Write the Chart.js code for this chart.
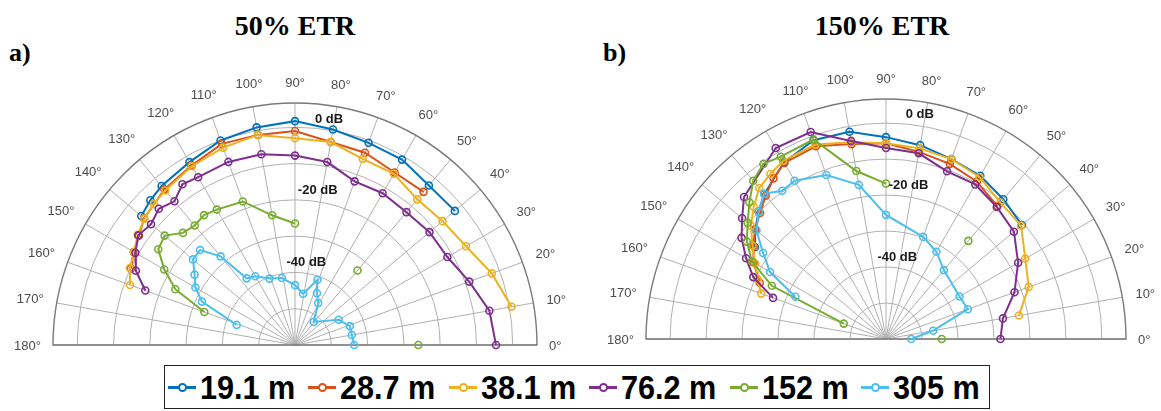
<!DOCTYPE html>
<html>
<head>
<meta charset="utf-8">
<script src="https://cdn.jsdelivr.net/npm/chart.js@4/dist/chart.umd.min.js"></script>
<style>
  body { margin: 0; width: 1161px; height: 411px; background: #fff; position: relative; overflow: hidden; }
  canvas { position: absolute; top: 0; }
  .title { position: absolute; top: 12px; font: bold 28px/1 "Liberation Serif", "Times New Roman", serif; transform: translateX(-50%); white-space: nowrap; color: #000; }
  .tag { position: absolute; top: 40px; font: bold 26px/1 "Liberation Serif", "Times New Roman", serif; color: #000; }
  #legend { position: absolute; left: 164px; top: 365px; width: 826px; height: 44px; border: 1px solid #222; display: flex; align-items: center; justify-content: space-between; padding: 0 10px 0 3px; box-sizing: border-box; }
  .item { display: flex; align-items: center; }
  .sample { position: relative; width: 28px; height: 3px; margin-right: 4px; }
  .sample i { position: absolute; left: 10px; top: -3px; width: 5px; height: 5px; border: 2px solid; border-radius: 50%; background: #fff; }
  .label { font: bold 34px/1 "Liberation Sans", Arial, sans-serif; color: #000; display: inline-block; transform: scaleX(0.9); transform-origin: left center; margin-right: -10px; }
</style>
</head>
<body>
<div class="title" style="left:295px">50% ETR</div>
<div class="title" style="left:882px">150% ETR</div>
<div class="tag" style="left:9px">a)</div>
<div class="tag" style="left:603px">b)</div>
<canvas id="left" width="590" height="360" style="left:0"></canvas>
<canvas id="right" width="571" height="360" style="left:590px"></canvas>
<div id="legend"></div>
<script>
// series names and colours (MATLAB defaults)
const seriesNames = ["19.1 m", "28.7 m", "38.1 m", "76.2 m", "152 m", "305 m"];
const seriesColors = ["#0072BD", "#D95319", "#EDB120", "#7E2F8E", "#77AC30", "#4DBEEE"];

// axis ticks
const thetaTicks = [0, 10, 20, 30, 40, 50, 60, 70, 80, 90, 100, 110, 120, 130, 140, 150, 160, 170, 180];
const ringTicks = [-50, -40, -30, -20, -10, 0];
const ringLabels = [0, -20, -40];
const rMin = -60;
const rMax = 6.7;

// [angle deg, level dB], null = gap in the line
const etr50_19 = [[40,-2.5],[50,-2.6],[60,-1.0],[70,-0.7],[80,0.3],[90,1.7],[100,0.9],[110,0.0],[120,-1.8],[130,-2.8],[135,-3.6],[140,-4.7]];
const etr50_28 = [[50,-4.9],[60,-5.1],[70,-3.6],[80,-3.2],[90,-1.0],[100,-1.2],[110,-1.0],[120,-2.9],[130,-4.0],[140,-5.7],[145,-7.5],[150,-8.7],[155,-10.1]];
const etr50_38 = [[10,0.6],[20,-2.3],[30,-5.6],[40,-6.9],[50,-7.6],[60,-5.5],[70,-5.4],[80,-3.2],[90,-3.0],[100,-1.2],[110,-2.1],[120,-3.1],[130,-4.4],[135,-5.0],[140,-5.8],[145,-7.1],[150,-8.7],[155,-9.8],[160,-11.6]];
const etr50_76 = [[0,-4.6],[10,-5.6],[20,-8.9],[30,-11.5],[40,-11.6],[50,-12.2],[60,-11.7],[70,-12.0],[80,-8.8],[90,-7.8],[100,-6.6],[110,-6.3],[120,-6.6],[125,-5.9],[130,-8.3],[135,-6.9],[140,-8.2],[145,-7.3],[150,-9.2],[155,-11.6],[160,-16.1]];
const etr50_152 = [[0,-26.0], null, [50,-33.2], null, [90,-26.5],[100,-23.7],[110,-17.9],[120,-16.9],[125,-16.3],[130,-17.0],[135,-16.3],[140,-13.1],[145,-14.0],[150,-18.4],[155,-23.6],[160,-33.4]];
const etr50_305 = [[0,-43.7],[10,-44.1],[19,-44.0],[30,-46.1],[51,-51.8],[61,-46.8],[67,-44.5],[71,-41.0],[81,-45.7],[90,-43.5],[101,-41.2],[111,-40.4],[120,-38.1],[126,-37.3],[130,-28.1],[135,-23.0],[140,-23.3],[145,-26.2],[150,-28.3],[155,-31.7],[161,-43.0]];

const etr150_19 = [[40,-10.7],[50,-9.3],[60,-7.6],[70,-6.8],[80,-5.3],[90,-3.9],[100,-1.5],[110,-1.2],[120,-3.3],[130,-7.4],[135,-9.9],[140,-12.6],[145,-15.5]];
const etr150_28 = [[50,-11.8],[60,-9.5],[70,-8.2],[80,-7.2],[90,-5.6],[100,-5.0],[110,-3.0],[120,-3.5],[125,-5.5],[130,-8.0],[135,-10.5],[140,-12.5],[145,-15.0],[150,-17.5],[156,-21.6]];
const etr150_38 = [[10,-22.5],[20,-17.8],[30,-15.3],[40,-11.0],[50,-10.5],[60,-8.0],[70,-6.8],[80,-6.2],[90,-5.6],[100,-4.5],[110,-2.5],[120,-2.8],[125,-4.0],[130,-5.2],[135,-8.0],[140,-11.0],[145,-14.7],[150,-18.0],[155,-20.6],[160,-23.1]];
const etr150_76 = [[0,-28.2],[10,-27.0],[20,-22.0],[30,-17.6],[40,-13.6],[50,-12.1],[60,-10.4],[70,-10.4],[80,-7.6],[90,-6.9],[100,-4.1],[110,1.2],[120,1.3],[135,-4.2],[140,-7.8],[145,-11.0],[150,-15.1],[155,-19.3],[160,-26.6]];
const etr150_152 = [[0,-44.5], null, [50,-24.4], null, [90,-16.8],[100,-12.6],[110,-1.0],[120,-1.5],[125,-0.6],[130,-2.6],[135,-6.3],[140,-9.8],[145,-12.8],[150,-17.0],[155,-25.0],[160,-47.5]];
const etr150_305 = [[0,-53.0],[10,-46.7],[20,-35.8],[30,-36.4],[50,-35.0],[60,-32.0],[70,-29.8],[90,-25.5],[100,-16.5],[110,-11.5],[120,-9.2],[125,-9.7],[130,-7.3],[135,-10.0],[140,-13.0],[145,-18.3],[150,-22.8],[155,-32.2]];

const etr50 = [etr50_19, etr50_28, etr50_38, etr50_76, etr50_152, etr50_305];
const etr150 = [etr150_19, etr150_28, etr150_38, etr150_76, etr150_152, etr150_305];

// polar -> cartesian in "dB above rMin" units
function toXY(pairs) {
  return pairs.map(p => {
    if (!p) return { x: NaN, y: NaN };
    const r = p[1] - rMin, t = p[0] * Math.PI / 180;
    return { x: r * Math.cos(t), y: r * Math.sin(t) };
  });
}

const polarGrid = {
  id: "polarGrid",
  beforeDatasetsDraw(chart) {
    const { ctx, scales: { x, y } } = chart;
    const cx = x.getPixelForValue(0), cy = y.getPixelForValue(0);
    const rad = v => x.getPixelForValue(v - rMin) - cx;
    const R = rad(rMax);
    ctx.save();
    ctx.strokeStyle = "#b0b0b0";
    ctx.lineWidth = 1;
    ringTicks.forEach(db => {
      ctx.beginPath();
      ctx.arc(cx, cy, rad(db), Math.PI, 2 * Math.PI);
      ctx.stroke();
    });
    thetaTicks.forEach(t => {
      const a = t * Math.PI / 180;
      ctx.beginPath();
      ctx.moveTo(cx, cy);
      ctx.lineTo(cx + R * Math.cos(a), cy - R * Math.sin(a));
      ctx.stroke();
    });
    ctx.strokeStyle = "#7a7a7a";
    ctx.lineWidth = 1.4;
    ctx.beginPath();
    ctx.arc(cx, cy, R, Math.PI, 2 * Math.PI);
    ctx.closePath();
    ctx.stroke();
    ctx.restore();
  },
  afterDatasetsDraw(chart) {
    const { ctx, scales: { x, y } } = chart;
    const cx = x.getPixelForValue(0), cy = y.getPixelForValue(0);
    const rad = v => x.getPixelForValue(v - rMin) - cx;
    const R = rad(rMax);
    ctx.save();
    ctx.textAlign = "center";
    ctx.textBaseline = "middle";
    ctx.font = '13px "Liberation Sans", Arial, sans-serif';
    ctx.fillStyle = "#4d4d4d";
    thetaTicks.forEach(t => {
      const a = t * Math.PI / 180;
      const txt = t + "\u00b0";
      const w = ctx.measureText(txt).width;
      const d = R + 12 + Math.abs(Math.cos(a)) * w / 2 + Math.abs(Math.sin(a)) * 9;
      ctx.fillText(txt, cx + d * Math.cos(a), cy - d * Math.sin(a) + 1);
    });
    ctx.font = 'bold 13px "Liberation Sans", Arial, sans-serif';
    ctx.fillStyle = "#1a1a1a";
    ringLabels.forEach(db => {
      const r = rad(db), a = 81 * Math.PI / 180;
      ctx.fillText(db + " dB", cx + r * Math.cos(a), cy - r * Math.sin(a) - 11);
    });
    ctx.restore();
  }
};

function makeChart(id, series, pad) {
  new Chart(document.getElementById(id), {
    type: "scatter",
    data: {
      datasets: series.map((s, i) => ({
        label: seriesNames[i],
        data: toXY(s),
        showLine: true,
        spanGaps: false,
        borderColor: seriesColors[i],
        borderWidth: 2,
        pointRadius: 3.5,
        pointBorderWidth: 1.6,
        pointBorderColor: seriesColors[i],
        pointBackgroundColor: "rgba(255,255,255,0)",
        clip: false,
        order: -i
      }))
    },
    options: {
      responsive: false,
      animation: false,
      devicePixelRatio: 1,
      events: [],
      layout: { padding: pad },
      scales: {
        x: { type: "linear", min: -(rMax - rMin), max: rMax - rMin, display: false },
        y: { type: "linear", min: 0, max: rMax - rMin, display: false }
      },
      plugins: { legend: { display: false }, tooltip: { enabled: false } }
    },
    plugins: [polarGrid]
  });
}

makeChart("left", etr50, { left: 53, right: 53, top: 103, bottom: 15 });
makeChart("right", etr150, { left: 56, right: 35, top: 99, bottom: 21 });

// legend
const legend = document.getElementById("legend");
seriesNames.forEach((name, i) => {
  const item = document.createElement("div");
  item.className = "item";
  item.innerHTML = '<div class="sample" style="background:' + seriesColors[i] + '"><i style="border-color:' + seriesColors[i] + '"></i></div><span class="label">' + name + '</span>';
  legend.appendChild(item);
});
</script>
</body>
</html>
